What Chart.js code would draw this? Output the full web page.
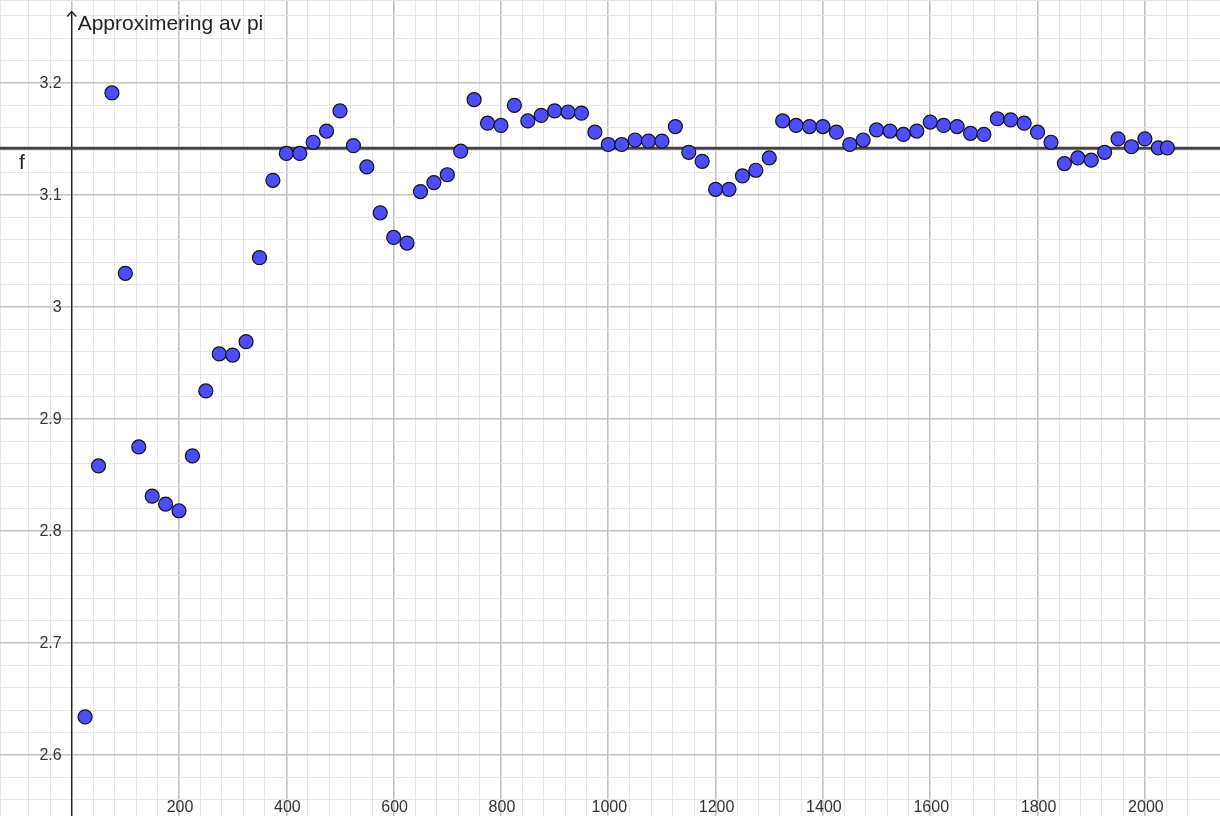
<!DOCTYPE html>
<html>
<head>
<meta charset="utf-8">
<title>Approximering av pi</title>
<script src="https://cdn.jsdelivr.net/npm/chart.js@4/dist/chart.umd.min.js"></script>
<style>
  html, body { margin: 0; padding: 0; background: #fff; }
  canvas { display: block; }
</style>
</head>
<body>
<canvas id="chart" width="1220" height="816"></canvas>
<script>
// sample sizes (x) and pi estimates (y)
const xValues = [
  25, 50, 75, 100, 125, 150, 175, 200, 225, 250,
  275, 300, 325, 350, 375, 400, 425, 450, 475, 500,
  525, 550, 575, 600, 625, 650, 675, 700, 725, 750,
  775, 800, 825, 850, 875, 900, 925, 950, 975, 1000,
  1025, 1050, 1075, 1100, 1125, 1150, 1175, 1200, 1225, 1250,
  1275, 1300, 1325, 1350, 1375, 1400, 1425, 1450, 1475, 1500,
  1525, 1550, 1575, 1600, 1625, 1650, 1675, 1700, 1725, 1750,
  1775, 1800, 1825, 1850, 1875, 1900, 1925, 1950, 1975, 2000,
  2025, 2042
];
const piEstimates = [
  2.634, 2.858, 3.191, 3.030, 2.875, 2.831, 2.824, 2.818, 2.867, 2.925,
  2.958, 2.957, 2.969, 3.044, 3.113, 3.137, 3.137, 3.147, 3.157, 3.175,
  3.144, 3.125, 3.084, 3.062, 3.057, 3.103, 3.111, 3.118, 3.139, 3.185,
  3.164, 3.162, 3.180, 3.166, 3.171, 3.175, 3.174, 3.173, 3.156, 3.145,
  3.145, 3.149, 3.148, 3.148, 3.161, 3.138, 3.130, 3.105, 3.105, 3.117,
  3.122, 3.133, 3.166, 3.162, 3.161, 3.161, 3.156, 3.145, 3.149, 3.158,
  3.157, 3.154, 3.157, 3.165, 3.162, 3.161, 3.155, 3.154, 3.168, 3.167,
  3.164, 3.156, 3.147, 3.128, 3.133, 3.131, 3.138, 3.150, 3.143, 3.150,
  3.142, 3.142
];
const xTickLabels = ["200", "400", "600", "800", "1000", "1200", "1400", "1600", "1800", "2000"];
const yTickLabels = ["2.6", "2.7", "2.8", "2.9", "3", "3.1", "3.2"];
const lineLabel = "f";
const title = "Approximering av pi";

const X_MIN = -133.6, X_MAX = 2140;
const Y_MIN = 2.5455, Y_MAX = 3.274;

const points = xValues.map((x, i) => ({ x: x, y: piEstimates[i] }));

function onStep(v, step) {
  const r = v / step;
  return Math.abs(r - Math.round(r)) < 1e-6;
}

function gridColor(major) {
  return ctx => {
    const v = ctx.tick ? ctx.tick.value : NaN;
    if (onStep(v, major)) return "#c2c2c8";
    return "#e6e6ea";
  };
}
function gridWidth(major) {
  return ctx => (ctx.tick && onStep(ctx.tick.value, major) ? 1.6 : 1);
}

const overlay = {
  id: "overlay",
  beforeDatasetsDraw(chart) {
    const c = chart.ctx;
    const xs = chart.scales.x, ys = chart.scales.y;
    const x0 = xs.getPixelForValue(0);
    c.save();
    // y axis with arrow
    c.strokeStyle = "#222";
    c.lineWidth = 1.4;
    c.beginPath();
    c.moveTo(x0, 12);
    c.lineTo(x0, chart.height);
    c.stroke();
    c.beginPath();
    c.moveTo(x0 - 4.5, 16.5);
    c.lineTo(x0, 11.5);
    c.lineTo(x0 + 4.5, 16.5);
    c.stroke();

    c.fillStyle = "#333";
    c.font = "16px 'Liberation Sans', Arial, sans-serif";
    c.textAlign = "right";
    c.textBaseline = "middle";
    yTickLabels.forEach(t => {
      c.fillText(t, x0 - 10, ys.getPixelForValue(parseFloat(t)) + 1);
    });
    c.textAlign = "center";
    c.textBaseline = "alphabetic";
    xTickLabels.forEach(t => {
      c.fillText(t, xs.getPixelForValue(parseFloat(t)) + 1, 812);
    });
    c.restore();
  },
  afterDatasetsDraw(chart) {
    const c = chart.ctx;
    const xs = chart.scales.x, ys = chart.scales.y;
    const x0 = xs.getPixelForValue(0);
    c.save();
    c.fillStyle = "#222";
    c.font = "21px 'Liberation Sans', Arial, sans-serif";
    c.textBaseline = "middle";
    c.textAlign = "left";
    c.fillText(title, x0 + 6, 24);
    c.fillText(lineLabel, 19, ys.getPixelForValue(Math.PI) + 15);
    c.restore();
  }
};

new Chart(document.getElementById("chart"), {
  type: "scatter",
  data: {
    datasets: [
      {
        label: "punkter",
        data: points,
        pointRadius: 7,
        pointHoverRadius: 7,
        pointBackgroundColor: "#4d4dff",
        pointBorderColor: "#111",
        pointBorderWidth: 1.2,
        order: 1
      },
      {
        type: "line",
        label: lineLabel,
        data: [{ x: X_MIN, y: Math.PI }, { x: X_MAX, y: Math.PI }],
        borderColor: "#444",
        borderWidth: 3,
        pointRadius: 0,
        order: 2
      }
    ]
  },
  options: {
    responsive: false,
    animation: false,
    devicePixelRatio: 1,
    layout: { padding: 0, autoPadding: false },
    plugins: {
      legend: { display: false },
      tooltip: { enabled: false }
    },
    scales: {
      x: {
        type: "linear",
        min: X_MIN,
        max: X_MAX,
        border: { display: false },
        ticks: { display: false, stepSize: 40 },
        grid: { drawTicks: false, color: gridColor(200), lineWidth: gridWidth(200) }
      },
      y: {
        type: "linear",
        min: Y_MIN,
        max: Y_MAX,
        border: { display: false },
        ticks: { display: false, stepSize: 0.02 },
        grid: { drawTicks: false, color: gridColor(0.1), lineWidth: gridWidth(0.1) }
      }
    }
  },
  plugins: [overlay]
});
</script>
</body>
</html>
